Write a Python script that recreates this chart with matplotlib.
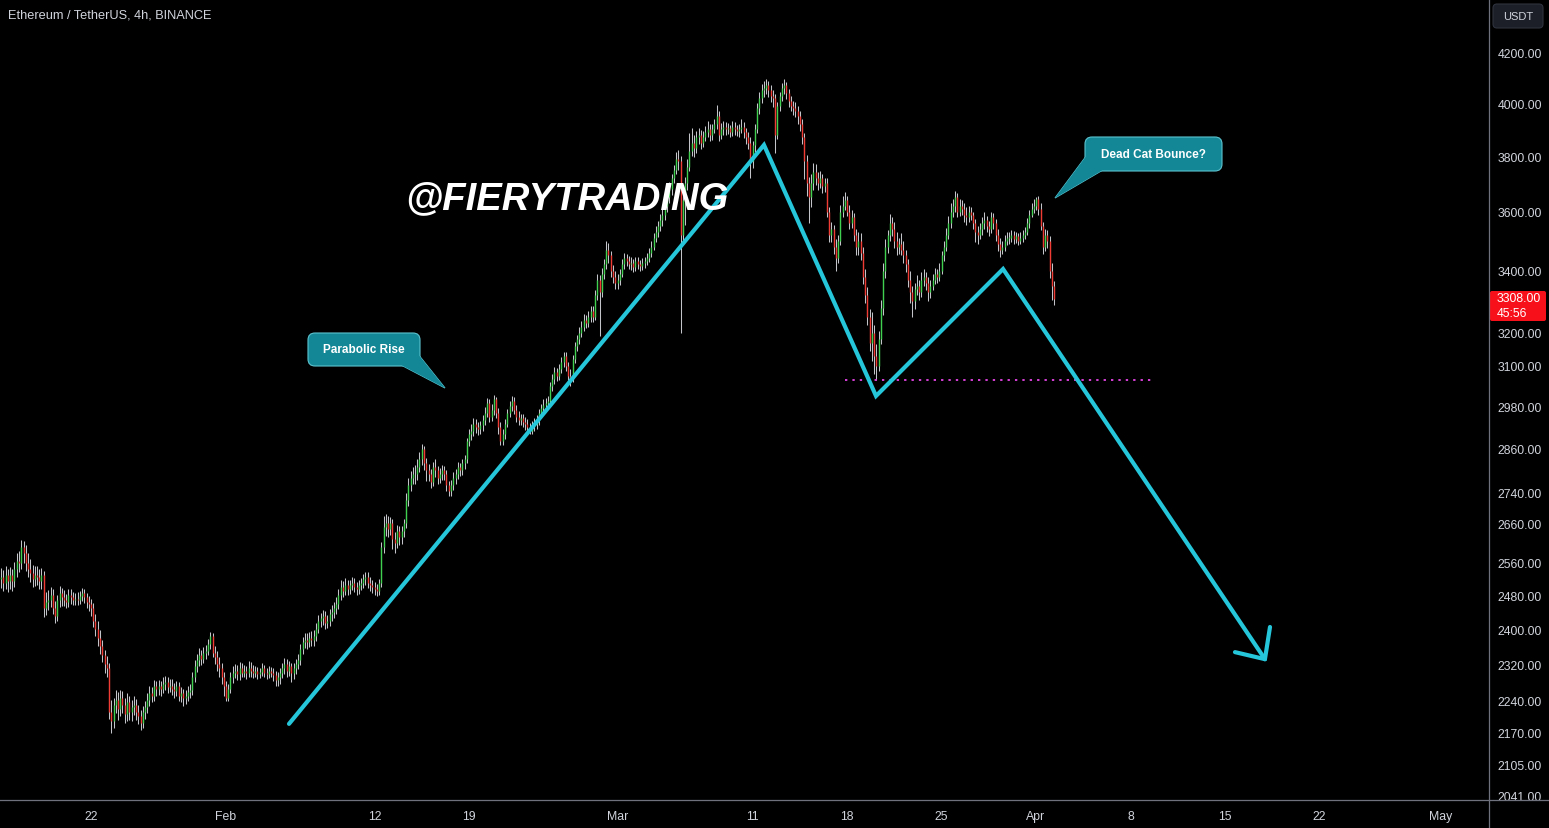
import matplotlib
matplotlib.use("Agg")
import matplotlib.pyplot as plt
import matplotlib.dates as mdates
from matplotlib.patches import FancyBboxPatch, Polygon
from matplotlib.transforms import Affine2D
from matplotlib.lines import Line2D
import pandas as pd
import numpy as np

# ---------------- data (ETH/USDT 4h) ----------------
first_bar = "2024-01-15 08:00"
open_first = 2520
close_prices = [
    2525, 2510, 2530, 2515,
    2530, 2515, 2545, 2565, 2560, 2600,
    2585, 2560, 2545, 2535, 2520, 2530,
    2525, 2515, 2530, 2450, 2465, 2470,
    2480, 2450, 2430, 2470, 2485, 2475,
    2470, 2465, 2480, 2475, 2470, 2472,
    2470, 2478, 2485, 2475, 2465, 2460,
    2450, 2420, 2400, 2380, 2360, 2340,
    2320, 2310, 2215, 2195, 2230, 2240,
    2220, 2245, 2230, 2210, 2235, 2215,
    2225, 2230, 2215, 2205, 2190, 2215,
    2225, 2240, 2255, 2250, 2270, 2265,
    2270, 2265, 2275, 2280, 2268, 2272,
    2265, 2260, 2270, 2250, 2255, 2245,
    2250, 2258, 2262, 2290, 2315, 2330,
    2340, 2332, 2345, 2350, 2365, 2385,
    2345, 2335, 2320, 2310, 2290, 2270,
    2245, 2265, 2290, 2300, 2305, 2298,
    2310, 2300, 2305, 2300, 2312, 2305,
    2300, 2305, 2298, 2302, 2310, 2300,
    2298, 2305, 2300, 2295, 2285, 2290,
    2300, 2310, 2320, 2305, 2315, 2300,
    2310, 2320, 2330, 2355, 2370, 2375,
    2370, 2380, 2375, 2385, 2400, 2420,
    2425, 2430, 2415, 2420, 2435, 2440,
    2450, 2460, 2480, 2500, 2490, 2505,
    2495, 2505, 2510, 2500, 2495, 2505,
    2510, 2520, 2525, 2510, 2505, 2500,
    2495, 2490, 2510, 2600, 2650, 2660,
    2645, 2660, 2620, 2610, 2640, 2625,
    2640, 2660, 2720, 2760, 2780, 2790,
    2790, 2810, 2830, 2860, 2820, 2800,
    2790, 2770, 2810, 2800, 2780, 2790,
    2800, 2790, 2760, 2745, 2760, 2780,
    2790, 2810, 2800, 2820, 2830, 2880,
    2900, 2910, 2930, 2920, 2915, 2925,
    2940, 2960, 2990, 2950, 2970, 3000,
    2960, 2920, 2880, 2900, 2930, 2960,
    2980, 2995, 2970, 2950, 2940, 2945,
    2935, 2930, 2920, 2910, 2925, 2930,
    2940, 2960, 2975, 2985, 2990, 2995,
    3040, 3060, 3080, 3070, 3090, 3110,
    3130, 3100, 3070, 3060, 3120, 3160,
    3180, 3200, 3220, 3240, 3230, 3250,
    3270, 3250, 3320, 3370, 3330, 3390,
    3420, 3470, 3450, 3400, 3380, 3360,
    3370, 3390, 3420, 3440, 3430, 3420,
    3425, 3410, 3430, 3420, 3415, 3425,
    3430, 3440, 3460, 3480, 3510, 3530,
    3550, 3570, 3590, 3620, 3650, 3680,
    3720, 3750, 3790, 3780, 3520, 3640,
    3700, 3760, 3820, 3850, 3830, 3870,
    3880, 3850, 3870, 3890, 3900, 3880,
    3900, 3920, 3950, 3880, 3900, 3910,
    3900, 3905, 3890, 3910, 3900, 3895,
    3900, 3910, 3890, 3870, 3850, 3780,
    3840, 3900, 3980, 4020, 4050, 4060,
    4070, 4050, 4030, 4020, 3880, 3990,
    4030, 4060, 4070, 4040, 4010, 3990,
    3980, 3970, 3950, 3920, 3870, 3780,
    3700, 3650, 3700, 3740, 3720, 3700,
    3720, 3690, 3700, 3600, 3520, 3540,
    3480, 3440, 3500, 3600, 3620, 3640,
    3600, 3560, 3580, 3520, 3480, 3500,
    3460, 3380, 3320, 3250, 3170, 3200,
    3130, 3100, 3180, 3280, 3400, 3480,
    3520, 3560, 3540, 3500, 3480, 3490,
    3470, 3450, 3420, 3370, 3330, 3300,
    3340, 3350, 3330, 3370, 3380, 3360,
    3330, 3350, 3370, 3390, 3380, 3400,
    3450, 3480, 3520, 3560, 3600, 3620,
    3650, 3600, 3620, 3610, 3590, 3580,
    3600, 3590, 3560, 3530, 3520, 3540,
    3560, 3570, 3550, 3540, 3580, 3560,
    3520, 3490, 3470, 3480, 3500, 3510,
    3510, 3520, 3505, 3515, 3500, 3510,
    3520, 3530, 3560, 3590, 3610, 3620,
    3645, 3610, 3550, 3480, 3520, 3500,
    3400, 3350, 3308,
]
high_prices = [
    2548, 2542, 2552, 2545,
    2550, 2545, 2562, 2585, 2590, 2618,
    2615, 2605, 2585, 2570, 2555, 2552,
    2552, 2545, 2548, 2540, 2488, 2492,
    2500, 2495, 2466, 2482, 2502, 2498,
    2492, 2484, 2495, 2496, 2488, 2486,
    2488, 2490, 2498, 2496, 2486, 2478,
    2472, 2462, 2435, 2418, 2398, 2375,
    2352, 2338, 2322, 2240, 2245, 2262,
    2258, 2262, 2260, 2245, 2255, 2250,
    2240, 2248, 2242, 2230, 2218, 2228,
    2238, 2255, 2270, 2268, 2285, 2282,
    2285, 2282, 2290, 2294, 2290, 2286,
    2286, 2278, 2282, 2280, 2268, 2265,
    2262, 2270, 2275, 2302, 2328, 2342,
    2356, 2352, 2358, 2364, 2378, 2393,
    2390, 2362, 2350, 2335, 2322, 2302,
    2282, 2276, 2302, 2315, 2320, 2318,
    2325, 2322, 2318, 2316, 2326, 2324,
    2318, 2315, 2314, 2312, 2322, 2318,
    2312, 2316, 2314, 2310, 2304, 2302,
    2312, 2322, 2334, 2332, 2326, 2322,
    2322, 2332, 2342, 2366, 2382, 2390,
    2392, 2394, 2396, 2398, 2414, 2432,
    2438, 2446, 2442, 2432, 2448, 2458,
    2465, 2475, 2495, 2518, 2514, 2522,
    2518, 2518, 2524, 2522, 2512, 2518,
    2522, 2532, 2538, 2536, 2524, 2518,
    2512, 2508, 2520, 2612, 2678, 2685,
    2680, 2676, 2670, 2638, 2655, 2652,
    2652, 2672, 2740, 2780, 2798, 2810,
    2815, 2830, 2850, 2872, 2868, 2835,
    2818, 2805, 2822, 2830, 2812, 2806,
    2815, 2812, 2800, 2772, 2775, 2795,
    2805, 2822, 2820, 2832, 2842, 2890,
    2915, 2928, 2945, 2942, 2935, 2938,
    2955, 2978, 3004, 3000, 2988, 3012,
    3008, 2975, 2935, 2915, 2942, 2972,
    2995, 3010, 3006, 2984, 2965, 2958,
    2958, 2950, 2944, 2932, 2938, 2946,
    2955, 2972, 2988, 3000, 3004, 3010,
    3052, 3075, 3096, 3094, 3104, 3125,
    3142, 3140, 3112, 3090, 3132, 3172,
    3195, 3218, 3236, 3260, 3255, 3268,
    3285, 3284, 3336, 3390, 3385, 3408,
    3438, 3500, 3492, 3465, 3418, 3400,
    3388, 3406, 3438, 3460, 3456, 3448,
    3444, 3438, 3446, 3444, 3434, 3440,
    3445, 3458, 3476, 3498, 3526, 3550,
    3568, 3592, 3612, 3645, 3675, 3705,
    3735, 3768, 3815, 3822, 3800, 3680,
    3725, 3790, 3885, 3905, 3878, 3895,
    3905, 3898, 3892, 3912, 3930, 3920,
    3920, 3940, 3992, 3968, 3925, 3930,
    3928, 3924, 3918, 3930, 3926, 3918,
    3920, 3940, 3928, 3905, 3890, 3870,
    3855, 3920, 4000, 4045, 4075, 4088,
    4094, 4088, 4070, 4050, 4035, 4005,
    4045, 4080, 4094, 4085, 4055, 4030,
    4010, 4005, 3990, 3968, 3940, 3885,
    3805, 3725, 3735, 3775, 3770, 3740,
    3745, 3735, 3720, 3718, 3615, 3565,
    3555, 3505, 3520, 3625, 3655, 3670,
    3655, 3625, 3605, 3595, 3540, 3530,
    3525, 3480, 3405, 3345, 3275, 3265,
    3225, 3165, 3205, 3305, 3425, 3505,
    3535, 3592, 3580, 3565, 3530, 3510,
    3525, 3500, 3470, 3438, 3400, 3350,
    3360, 3385, 3370, 3395, 3405, 3395,
    3378, 3370, 3390, 3408, 3404, 3425,
    3465, 3500, 3542, 3585, 3630, 3645,
    3672, 3665, 3645, 3642, 3630, 3615,
    3620, 3618, 3600, 3575, 3550, 3560,
    3580, 3598, 3585, 3568, 3600, 3595,
    3575, 3540, 3510, 3500, 3518, 3530,
    3530, 3538, 3534, 3530, 3526, 3528,
    3535, 3548, 3578, 3605, 3630, 3645,
    3652, 3655, 3630, 3565, 3540, 3535,
    3515, 3425, 3365,
]
low_prices = [
    2498, 2490, 2496, 2488,
    2495, 2490, 2500, 2525, 2538, 2545,
    2560, 2540, 2525, 2512, 2500, 2502,
    2505, 2495, 2496, 2428, 2432, 2445,
    2452, 2436, 2415, 2420, 2452, 2455,
    2455, 2450, 2452, 2460, 2456, 2458,
    2458, 2460, 2466, 2462, 2450, 2442,
    2430, 2405, 2385, 2362, 2342, 2325,
    2300, 2292, 2200, 2170, 2180, 2212,
    2198, 2205, 2212, 2190, 2195, 2198,
    2195, 2208, 2198, 2188, 2175, 2180,
    2200, 2212, 2228, 2235, 2238, 2250,
    2252, 2250, 2255, 2262, 2255, 2258,
    2252, 2245, 2248, 2238, 2236, 2228,
    2232, 2238, 2245, 2252, 2280, 2302,
    2315, 2318, 2322, 2332, 2340, 2355,
    2335, 2320, 2305, 2292, 2276, 2250,
    2238, 2238, 2255, 2278, 2288, 2284,
    2284, 2290, 2290, 2286, 2292, 2292,
    2288, 2290, 2286, 2288, 2294, 2290,
    2286, 2288, 2290, 2282, 2272, 2272,
    2275, 2288, 2298, 2292, 2294, 2280,
    2286, 2298, 2308, 2318, 2342, 2356,
    2355, 2358, 2360, 2362, 2372, 2390,
    2405, 2410, 2400, 2402, 2408, 2420,
    2425, 2435, 2448, 2468, 2475, 2480,
    2482, 2484, 2492, 2488, 2480, 2484,
    2492, 2498, 2506, 2498, 2490, 2486,
    2482, 2478, 2480, 2500, 2585, 2628,
    2625, 2630, 2595, 2585, 2598, 2605,
    2608, 2625, 2648, 2705, 2745, 2762,
    2762, 2775, 2795, 2815, 2800, 2772,
    2772, 2752, 2758, 2782, 2762, 2766,
    2775, 2775, 2745, 2730, 2732, 2748,
    2762, 2778, 2785, 2788, 2805, 2820,
    2868, 2885, 2895, 2905, 2898, 2900,
    2908, 2925, 2948, 2935, 2938, 2955,
    2945, 2900, 2870, 2870, 2888, 2920,
    2948, 2965, 2958, 2935, 2925, 2926,
    2920, 2912, 2905, 2900, 2900, 2910,
    2915, 2926, 2945, 2962, 2972, 2978,
    2985, 3025, 3045, 3055, 3058, 3078,
    3095, 3085, 3058, 3040, 3050, 3108,
    3145, 3165, 3188, 3205, 3215, 3218,
    3235, 3235, 3240, 3305, 3190, 3315,
    3372, 3405, 3425, 3380, 3360, 3338,
    3340, 3352, 3378, 3405, 3415, 3404,
    3402, 3394, 3398, 3404, 3398, 3402,
    3408, 3418, 3428, 3446, 3468, 3495,
    3512, 3532, 3550, 3572, 3600, 3632,
    3660, 3700, 3735, 3750, 3200, 3495,
    3555, 3675, 3745, 3800, 3795, 3810,
    3845, 3825, 3832, 3855, 3870, 3855,
    3858, 3884, 3900, 3855, 3862, 3878,
    3878, 3882, 3872, 3876, 3878, 3874,
    3872, 3884, 3868, 3845, 3825, 3720,
    3755, 3815, 3885, 3960, 4000, 4025,
    4035, 4025, 4005, 3985, 3810, 3862,
    3970, 4010, 4035, 4015, 3985, 3968,
    3955, 3945, 3920, 3895, 3845, 3715,
    3655, 3560, 3615, 3675, 3695, 3675,
    3685, 3665, 3670, 3580, 3495, 3495,
    3455, 3400, 3425, 3485, 3580, 3605,
    3585, 3540, 3545, 3500, 3450, 3450,
    3435, 3355, 3295, 3225, 3145, 3115,
    3075, 3058, 3085, 3165, 3255, 3375,
    3460, 3500, 3515, 3475, 3450, 3455,
    3450, 3425, 3395, 3345, 3295, 3250,
    3275, 3320, 3305, 3315, 3350, 3335,
    3300, 3312, 3335, 3355, 3360, 3366,
    3390, 3432, 3465, 3505, 3545, 3580,
    3600, 3580, 3585, 3590, 3565, 3555,
    3565, 3570, 3540, 3495, 3490, 3505,
    3520, 3540, 3530, 3515, 3525, 3540,
    3500, 3465, 3445, 3455, 3465, 3485,
    3490, 3495, 3490, 3492, 3485, 3490,
    3495, 3505, 3518, 3545, 3580, 3595,
    3605, 3590, 3535, 3455, 3465, 3475,
    3375, 3305, 3288,
]

# drawing (cyan zig-zag projection)
path_dates = ["2024-02-05 16:00", "2024-03-11 20:24", "2024-03-20 03:36",
              "2024-03-29 13:26", "2024-04-17 23:00"]
path_prices = [2189, 3841, 3010, 3405, 2331]
arrow_barb_dates = ["2024-04-15 17:45", "2024-04-18 08:00"]
arrow_barb_prices = [2347, 2405]

support_dates = ["2024-03-17 20:24", "2024-04-09 14:10"]
support_price = 3057

price_ticks = [4200, 4000, 3800, 3600, 3400, 3200, 3100, 2980, 2860, 2740,
               2660, 2560, 2480, 2400, 2320, 2240, 2170, 2105, 2041]
date_ticks = ["2024-01-22", "2024-02-01", "2024-02-12", "2024-02-19", "2024-03-01",
              "2024-03-11", "2024-03-18", "2024-03-25", "2024-04-01", "2024-04-08",
              "2024-04-15", "2024-04-22", "2024-05-01"]
date_labels = ["22", "Feb", "12", "19", "Mar", "11", "18", "25", "Apr", "8", "15", "22", "May"]

last_price = "3308.00"
countdown = "45:56"

# ---------------- figure ----------------
W, H = 1549, 829
AX_R, AX_B = 1489, 801
fig = plt.figure(figsize=(W / 100, H / 100), dpi=100, facecolor="black")
ax = fig.add_axes([0, (H - AX_B) / H, AX_R / W, AX_B / H])
ax.set_facecolor("black")
PIX = Affine2D().scale(1, -1).translate(0, H)  # pixel coords, origin top-left

times = pd.date_range(first_bar, periods=len(close_prices), freq="4h")
xs = mdates.date2num(times.to_pydatetime())
c = np.array(close_prices, float)
o = np.concatenate([[open_first], c[:-1]])
hi = np.maximum(np.array(high_prices, float), np.maximum(o, c))
lo = np.minimum(np.array(low_prices, float), np.minimum(o, c))
up = c >= o
col = np.where(up, "#3fd04f", "#f03b35")

ax.vlines(xs, lo, hi, colors="#c2c4ca", lw=0.75, zorder=2)
btop = np.maximum(o, c)
bbot = np.minimum(o, c)
btop = np.where(btop - bbot < 2, btop + 1.5, btop)
ax.vlines(xs, bbot, btop, colors=col, lw=1.0, zorder=3)

ax.set_yscale("log")
ax.set_ylim(2033, 4426)
ref = mdates.date2num(pd.Timestamp("2024-01-22").to_pydatetime())
ax.set_xlim(ref - 91 / 13.5, ref + (AX_R - 91) / 13.5)

# cyan projection
pd_x = mdates.date2num(pd.to_datetime(path_dates).to_pydatetime())
ax.plot(pd_x, path_prices, color="#26c6da", lw=3.0, solid_capstyle="round",
        solid_joinstyle="miter", zorder=5)
bx = mdates.date2num(pd.to_datetime(arrow_barb_dates).to_pydatetime())
for xb, yb in zip(bx, arrow_barb_prices):
    ax.plot([pd_x[-1], xb], [path_prices[-1], yb], color="#26c6da", lw=3.0,
            solid_capstyle="round", zorder=5)

sx = mdates.date2num(pd.to_datetime(support_dates).to_pydatetime())
ax.plot(sx, [support_price, support_price], color="#d63fd6", lw=1.4,
        linestyle=(0, (1.2, 2.6)), zorder=4)

# axes styling
for s in ax.spines.values():
    s.set_visible(False)
ax.yaxis.tick_right()
ax.yaxis.set_minor_locator(matplotlib.ticker.NullLocator())
ax.set_yticks(price_ticks)
ax.set_yticklabels([f"{p:.2f}" for p in price_ticks])
ax.tick_params(axis="y", length=0, pad=6, colors="#d1d4dc", labelsize=8.8)
for t in ax.get_yticklabels():
    t.set_family(["Liberation Sans", "DejaVu Sans"])
ax.set_xticks(mdates.date2num(pd.to_datetime(date_ticks).to_pydatetime()))
ax.set_xticklabels(date_labels)
ax.tick_params(axis="x", length=0, pad=7, colors="#d1d4dc", labelsize=8.8)
for t in ax.get_xticklabels():
    t.set_family(["Liberation Sans Narrow", "Liberation Sans", "DejaVu Sans"])

# frame lines
fig.add_artist(Line2D([0, W], [AX_B, AX_B], transform=PIX, color="#6f727c", lw=0.9))
fig.add_artist(Line2D([AX_R, AX_R], [0, H], transform=PIX, color="#6f727c", lw=0.9))

# title
fig.text(8, 16, "Ethereum / TetherUS, 4h, BINANCE", transform=PIX, color="#d1d4dc",
         fontsize=9.2, va="center", ha="left", family=["Liberation Sans", "DejaVu Sans"])

# USDT box
fig.add_artist(FancyBboxPatch((1493, 5), 50, 24, boxstyle="round,pad=0,rounding_size=4",
                              transform=PIX, facecolor="#1c1f27", edgecolor="#2f333e", lw=0.8))
fig.text(1518, 17, "USDT", transform=PIX, color="#d1d4dc", fontsize=8, ha="center",
         va="center", family=["Liberation Sans", "DejaVu Sans"])

# last price box
fig.add_artist(FancyBboxPatch((1490, 292), 56, 30, boxstyle="round,pad=0,rounding_size=2",
                              transform=PIX, facecolor="#f7101a", edgecolor="none"))
fig.text(1497, 299.5, last_price, transform=PIX, color="white", fontsize=8.8, ha="left",
         va="center", family=["Liberation Sans", "DejaVu Sans"])
fig.text(1497, 314, countdown, transform=PIX, color="white", fontsize=8.8, ha="left",
         va="center", family=["Liberation Sans", "DejaVu Sans"])

# watermark
fig.text(567, 199, "@FIERYTRADING", transform=PIX, color="white", fontsize=27.5,
         fontweight="bold", style="italic", ha="center", va="center",
         family=["Liberation Sans Narrow", "Liberation Sans", "DejaVu Sans"], zorder=6)

# callouts
def callout(x0, y0, w, h, tail, text):
    fc, ec = "#138796", "#5cc3cf"
    fig.add_artist(Polygon(tail, closed=True, transform=PIX, facecolor=fc, edgecolor=ec, lw=0.8))
    fig.add_artist(FancyBboxPatch((x0, y0), w, h, boxstyle="round,pad=0,rounding_size=7",
                                  transform=PIX, facecolor=fc, edgecolor=ec, lw=0.8))
    fig.add_artist(Polygon(tail, closed=True, transform=PIX, facecolor=fc, edgecolor="none"))
    fig.text(x0 + w / 2, y0 + h / 2, text, transform=PIX, color="white", fontsize=8.5,
             fontweight="bold", ha="center", va="center",
             family=["Liberation Sans", "DejaVu Sans"])

callout(308, 334, 112, 33, [(402, 366.5), (419.5, 357), (445, 389)], "Parabolic Rise")
callout(1085, 138, 137, 34, [(1085.5, 158), (1102, 171.5), (1055, 199)], "Dead Cat Bounce?")

fig.savefig("out.png", dpi=100, facecolor="black")
